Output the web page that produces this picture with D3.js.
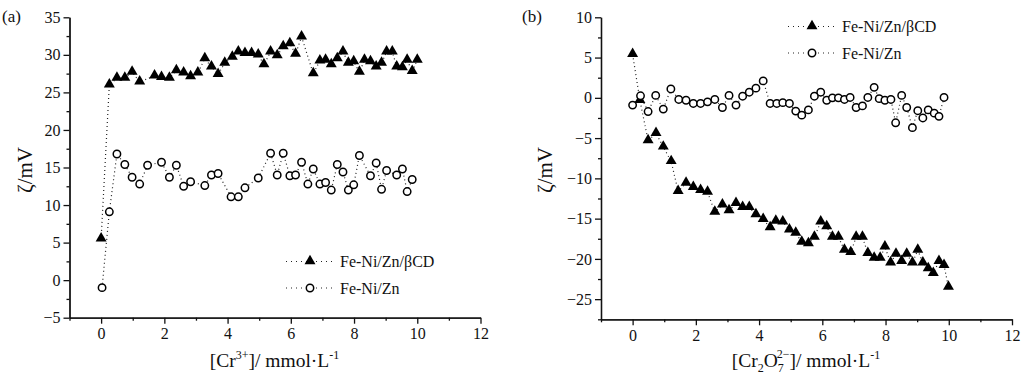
<!DOCTYPE html>
<html>
<head>
<meta charset="utf-8">
<script src="https://cdn.jsdelivr.net/npm/d3@7"></script>
<style>
  body { margin: 0; background: #fff; }
  svg text { font-family: "Liberation Serif", "Times New Roman", serif; fill: #111; }
  .axis path, .axis line { stroke: #111; stroke-width: 1.3; }
  .axis text { font-size: 16px; font-family: "Liberation Serif", "Times New Roman", serif; }
</style>
</head>
<body>
<div id="chart"></div>
<script>
var w = 1024;
var h = 377;

// panel (a): Cr3+
var aBcdX = [0, 0.26, 0.5, 0.75, 0.98, 1.22, 1.69, 1.91, 2.16, 2.38, 2.61, 2.83, 3.06, 3.28, 3.49, 3.70, 3.91, 4.15, 4.34, 4.55, 4.76, 4.97, 5.15, 5.36, 5.57, 5.76, 5.97, 6.15, 6.34, 6.71, 6.92, 7.10, 7.28, 7.47, 7.65, 7.82, 7.99, 8.17, 8.33, 8.52, 8.70, 8.87, 9.03, 9.21, 9.35, 9.53, 9.68, 9.84, 10.0];
var aBcdY = [5.5, 26.0, 26.9, 26.9, 27.7, 26.4, 27.2, 27.0, 26.9, 27.9, 27.6, 27.1, 27.6, 29.5, 28.4, 27.4, 28.9, 29.7, 30.4, 30.2, 30.2, 30.0, 28.7, 30.4, 29.9, 31.1, 31.5, 30.1, 32.4, 27.5, 29.2, 29.3, 28.7, 29.5, 30.4, 28.9, 29.1, 27.7, 29.3, 29.1, 28.4, 28.9, 30.4, 30.4, 28.4, 28.3, 29.3, 27.8, 29.3];
var aZnX = [0.03, 0.26, 0.5, 0.75, 0.98, 1.22, 1.47, 1.91, 2.16, 2.38, 2.61, 2.83, 3.28, 3.49, 3.70, 4.11, 4.34, 4.55, 4.97, 5.36, 5.57, 5.76, 5.97, 6.15, 6.34, 6.54, 6.71, 6.92, 7.10, 7.28, 7.47, 7.65, 7.82, 7.99, 8.17, 8.52, 8.70, 8.87, 9.03, 9.35, 9.53, 9.68, 9.84];
var aZnY = [-1.0, 9.1, 16.8, 15.4, 13.7, 12.8, 15.3, 15.7, 13.7, 15.3, 12.5, 13.1, 12.6, 14.0, 14.2, 11.1, 11.1, 12.3, 13.6, 16.9, 14.0, 16.9, 13.9, 14.0, 15.7, 12.8, 14.8, 12.8, 13.0, 12.0, 15.4, 14.4, 12.0, 12.7, 16.6, 13.9, 15.6, 12.1, 14.6, 14.0, 14.8, 11.8, 13.4];

// panel (b): Cr2O7 2-
var bBcdX = [0, 0.23, 0.49, 0.74, 0.97, 1.22, 1.44, 1.69, 1.92, 2.15, 2.37, 2.60, 2.84, 3.05, 3.27, 3.48, 3.69, 3.90, 4.13, 4.35, 4.53, 4.75, 4.96, 5.16, 5.35, 5.56, 5.75, 5.95, 6.14, 6.32, 6.51, 6.70, 6.90, 7.07, 7.27, 7.44, 7.64, 7.83, 7.98, 8.16, 8.33, 8.51, 8.67, 8.85, 9.02, 9.18, 9.35, 9.51, 9.69, 9.85, 9.99];
var bBcdY = [5.4, -0.3, -5.3, -4.4, -6.1, -7.9, -11.6, -10.6, -11.1, -11.5, -11.7, -14.2, -13.3, -14.0, -13.1, -13.6, -13.6, -14.5, -15.1, -16.1, -15.3, -15.4, -16.4, -16.8, -17.9, -18.1, -17.3, -15.4, -16.0, -17.3, -17.3, -18.9, -19.2, -17.3, -17.3, -19.3, -19.9, -19.9, -18.5, -20.5, -19.4, -20.3, -19.4, -20.5, -18.9, -20.5, -21.2, -21.8, -20.3, -20.8, -23.5];
var bZnX = [0.0, 0.25, 0.49, 0.73, 0.97, 1.21, 1.46, 1.69, 1.92, 2.15, 2.37, 2.60, 2.84, 3.05, 3.27, 3.48, 3.69, 3.90, 4.13, 4.35, 4.56, 4.75, 4.96, 5.16, 5.35, 5.56, 5.75, 5.95, 6.14, 6.32, 6.51, 6.70, 6.88, 7.07, 7.27, 7.44, 7.64, 7.80, 7.98, 8.17, 8.32, 8.51, 8.67, 8.85, 9.02, 9.18, 9.35, 9.54, 9.69, 9.85];
var bZnY = [-0.9, 0.25, -1.7, 0.3, -1.4, 1.1, -0.2, -0.3, -0.7, -0.7, -0.5, -0.2, -1.2, 0.3, -0.9, 0.2, 0.7, 1.2, 2.1, -0.7, -0.7, -0.6, -0.7, -1.65, -2.15, -1.5, 0.2, 0.7, -0.3, 0.0, 0.0, -0.2, 0.05, -1.2, -1.0, 0.05, 1.3, -0.1, -0.3, -0.2, -3.1, 0.3, -1.2, -3.7, -1.6, -2.5, -1.5, -1.9, -2.3, 0.05];

var xTicks = [0, 2, 4, 6, 8, 10, 12];
var xMinor = [-1, 1, 3, 5, 7, 9, 11];
var aYTicks = [-5, 0, 5, 10, 15, 20, 25, 30, 35];
var bYTicks = [-25, -20, -15, -10, -5, 0, 5, 10];
var legendNames = ['Fe-Ni/Zn/βCD', 'Fe-Ni/Zn'];

var svg = d3.select('#chart')
            .append('svg')
            .attr('width', w)
            .attr('height', h);

function zip(xs, ys) {
    return xs.map(function(x, i) { return [x, ys[i]]; });
}

function drawPanel(p) {
    var x = d3.scaleLinear().domain([-1, 12]).range([p.left, p.left + 411]);
    var y = d3.scaleLinear().domain(p.yDomain).range([p.bottom, 17.3]);
    var g = svg.append('g');

    // minor ticks first, then major axis
    g.append('g').attr('class', 'axis')
     .attr('transform', 'translate(0,' + p.bottom + ')')
     .call(d3.axisBottom(x).tickValues(xMinor).tickSize(3).tickSizeOuter(0).tickFormat(''));
    g.append('g').attr('class', 'axis')
     .attr('transform', 'translate(0,' + p.bottom + ')')
     .call(d3.axisBottom(x).tickValues(xTicks).tickSize(6).tickSizeOuter(0).tickPadding(4));

    var yMinor = p.yTicks.map(function(t) { return t - 2.5; }).filter(function(t) { return t >= p.yDomain[0]; });
    g.append('g').attr('class', 'axis')
     .attr('transform', 'translate(' + p.left + ',0)')
     .call(d3.axisLeft(y).tickValues(yMinor).tickSize(3).tickSizeOuter(0).tickFormat(''));
    g.append('g').attr('class', 'axis')
     .attr('transform', 'translate(' + p.left + ',0)')
     .call(d3.axisLeft(y).tickValues(p.yTicks).tickSize(6).tickSizeOuter(0).tickPadding(3));

    var line = d3.line().x(function(d) { return x(d[0]); }).y(function(d) { return y(d[1]); });
    var tri = d3.symbol().type(d3.symbolTriangle).size(52);

    [p.bcd, p.zn].forEach(function(s, i) {
        g.append('path')
         .attr('d', line(s))
         .attr('fill', 'none')
         .attr('stroke', '#222')
         .attr('stroke-width', 1.2)
         .attr('stroke-dasharray', '1,3');
    });

    g.selectAll('.tri').data(p.bcd).enter()
     .append('path')
     .attr('d', tri)
     .attr('transform', function(d) { return 'translate(' + x(d[0]) + ',' + (y(d[1]) - 0.5) + ')'; })
     .attr('fill', '#000');

    g.selectAll('.circ').data(p.zn).enter()
     .append('circle')
     .attr('cx', function(d) { return x(d[0]); })
     .attr('cy', function(d) { return y(d[1]); })
     .attr('r', 3.7)
     .attr('fill', '#fff')
     .attr('stroke', '#000')
     .attr('stroke-width', 1.5);

    // legend
    legendNames.forEach(function(name, i) {
        var ly = p.legY + i * 26.5;
        var lx = p.legX;
        g.append('line')
         .attr('x1', lx).attr('x2', lx + 50)
         .attr('y1', ly).attr('y2', ly)
         .attr('stroke', '#222').attr('stroke-width', 1.2)
         .attr('stroke-dasharray', '1,4');
        if (i == 0) {
            g.append('path').attr('d', tri)
             .attr('transform', 'translate(' + (lx + 24) + ',' + (ly - 0.5) + ')')
             .attr('fill', '#000');
        } else {
            g.append('circle').attr('cx', lx + 24).attr('cy', ly).attr('r', 3.7)
             .attr('fill', '#fff').attr('stroke', '#000').attr('stroke-width', 1.5);
        }
        g.append('text')
         .attr('x', lx + 54).attr('y', ly + 5.5)
         .style('font-size', '16px')
         .text(name);
    });

    // axis titles
    g.append('text')
     .attr('transform', 'translate(' + p.yTitleX + ',170) rotate(-90)')
     .attr('text-anchor', 'middle')
     .style('font-size', '21px')
     .text('ζ/mV');

    var t = g.append('text')
             .attr('x', p.left + 205)
             .attr('y', 367)
             .attr('text-anchor', 'middle')
             .style('font-size', '19.5px');
    p.xTitle.forEach(function(part) {
        var ts = t.append('tspan').text(part[0]);
        if (part[1] == 'sup') ts.attr('dy', -8).style('font-size', '12px');
        if (part[1] == 'sub') ts.attr('dy', 5).style('font-size', '12px');
        if (part[1] == 'back') ts.attr('dy', part[2]);
        if (part[1] == 'supx') ts.attr('dy', part[2]).attr('dx', part[3]).style('font-size', '12px');
    });

    g.append('text')
     .attr('x', p.tagX).attr('y', 22)
     .style('font-size', '17px')
     .text(p.tag);
}

drawPanel({
    left: 69.5, bottom: 317.7, yDomain: [-5, 35], yTicks: aYTicks,
    bcd: zip(aBcdX, aBcdY), zn: zip(aZnX, aZnY),
    legX: 286, legY: 261.5, yTitleX: 32, tagX: 2, tag: '(a)',
    xTitle: [['[Cr'], ['3+', 'sup'], [']/ mmol·L', 'back', 8], ['-1', 'sup']]
});

drawPanel({
    left: 601, bottom: 319.3, yDomain: [-27.5, 10], yTicks: bYTicks,
    bcd: zip(bBcdX, bBcdY), zn: zip(bZnX, bZnY),
    legX: 788, legY: 26.5, yTitleX: 552, tagX: 522, tag: '(b)',
    xTitle: [['[Cr'], ['2', 'sub'], ['O', 'back', -5], ['7', 'sub'], ['2−', 'supx', -14, -7], [']/ mmol·L', 'back', 9], ['-1', 'sup']]
});
</script>
</body>
</html>
